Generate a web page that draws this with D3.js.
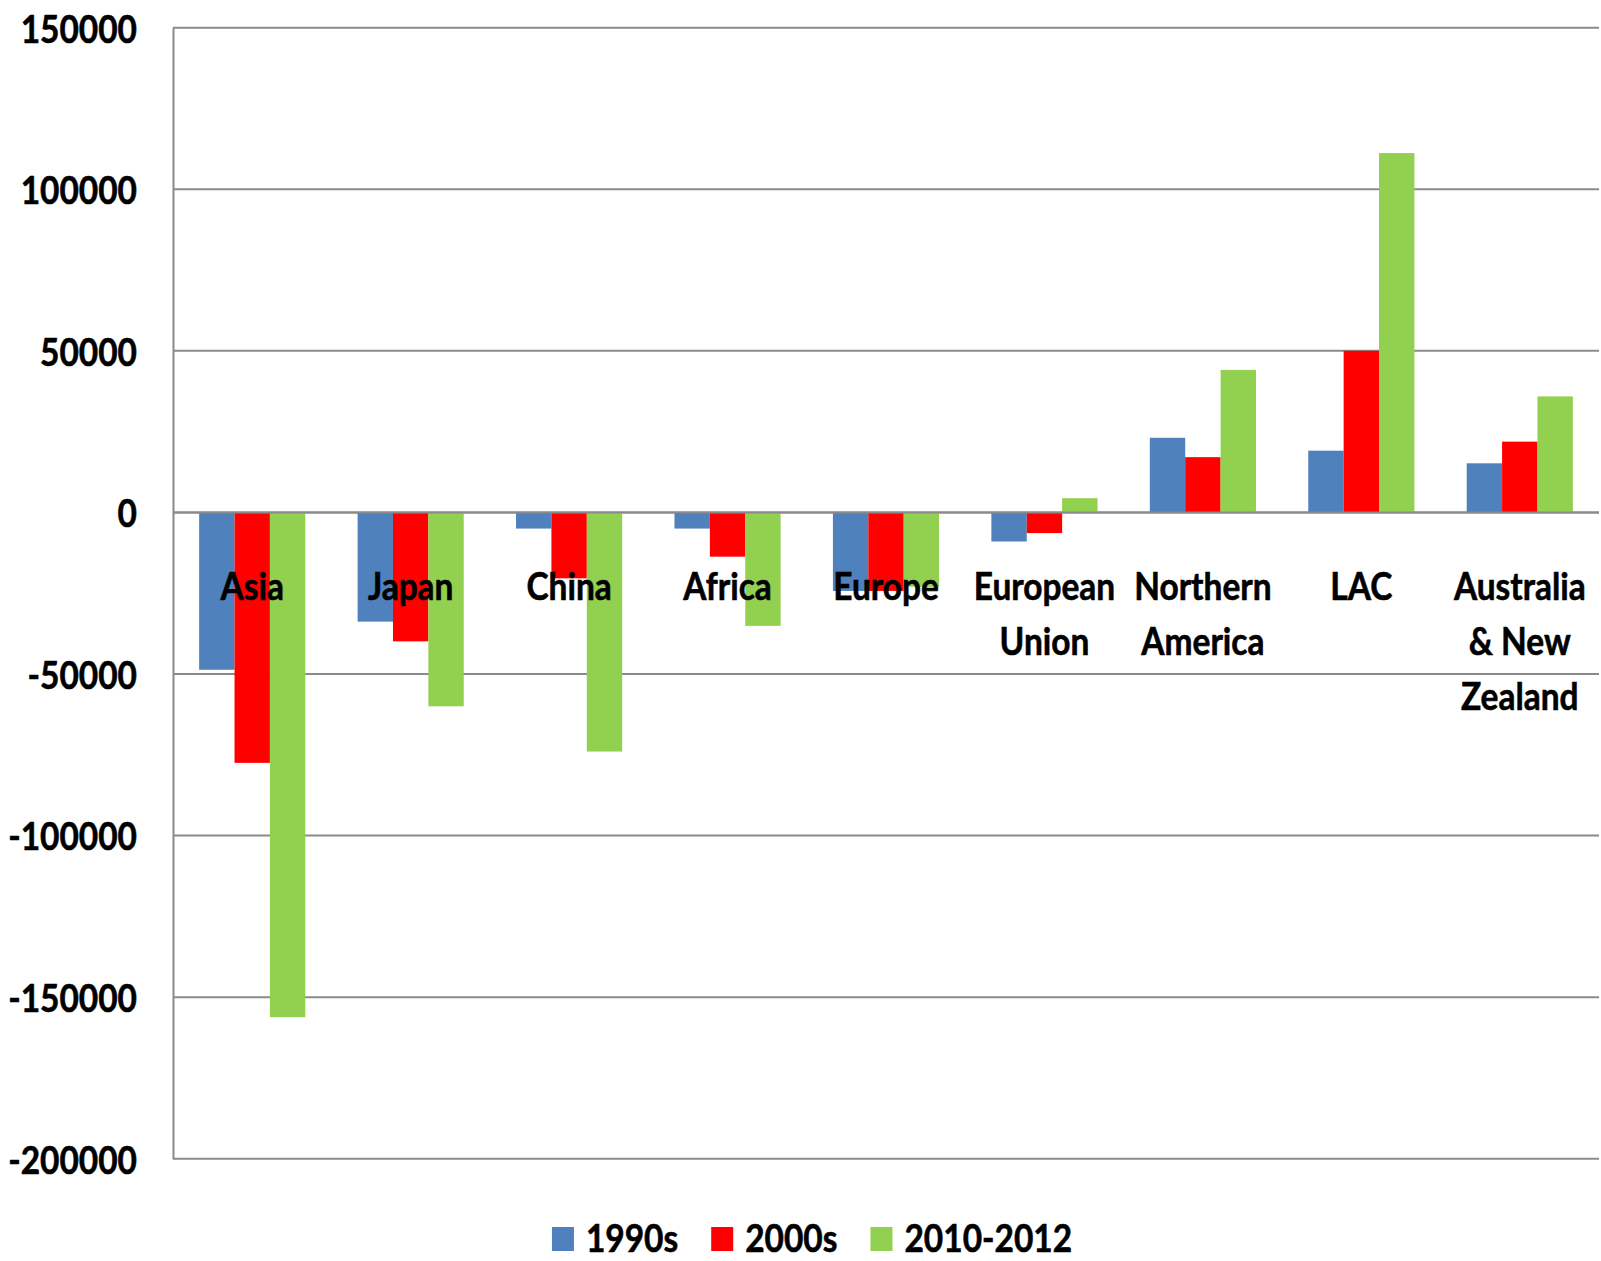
<!DOCTYPE html>
<html>
<head>
<meta charset="utf-8">
<script src="https://cdn.jsdelivr.net/npm/d3@7"></script>
<style>
    body { margin: 0; background: #fff; }
    text { font-family: Lato, "Open Sans", sans-serif; font-weight: bold; fill: #000; stroke: #000; stroke-width: 0.6px; }
</style>
</head>
<body>
<script>
// data
let categories = ["Asia", "Japan", "China", "Africa", "Europe", "European Union", "Northern America", "LAC", "Australia & New Zealand"];
let categoryLines = [["Asia"], ["Japan"], ["China"], ["Africa"], ["Europe"], ["European", "Union"], ["Northern", "America"], ["LAC"], ["Australia", "& New", "Zealand"]];
let seriesNames = ["1990s", "2000s", "2010-2012"];
let seriesColors = ["#4F81BD", "#FF0000", "#92D050"];
let values1990s = [-48700, -33800, -5000, -5000, -24300, -9000, 23100, 19100, 15200];
let values2000s = [-77500, -39900, -20400, -13700, -24300, -6400, 17100, 50000, 21900];
let values2010 = [-156200, -60000, -74000, -35100, -23000, 4400, 44100, 111200, 35900];
let yTicks = [150000, 100000, 50000, 0, -50000, -100000, -150000, -200000];

let seriesValues = [values1990s, values2000s, values2010];

let width = 1601, height = 1261;
let plotLeft = 173, plotRight = 1599, plotTop = 27.7, plotBottom = 1158.7;
let sx = 0.88;  // text is drawn narrower than the font

let svg = d3.select("body").append("svg")
    .attr("width", width)
    .attr("height", height);

let x0 = d3.scaleBand()
    .domain(categories)
    .range([plotLeft, plotRight])
    .paddingInner(0.33)
    .paddingOuter(0.165);

let x1 = d3.scaleBand()
    .domain(seriesNames)
    .range([0, x0.bandwidth()]);

let y = d3.scaleLinear()
    .domain([-200000, 150000])
    .range([plotBottom, plotTop]);

// gridlines
svg.append("g")
    .selectAll("line")
    .data(yTicks)
    .enter().append("line")
    .attr("x1", plotLeft)
    .attr("x2", plotRight)
    .attr("y1", d => y(d))
    .attr("y2", d => y(d))
    .attr("stroke", "#8a8a8a")
    .attr("stroke-width", 2);

// bars
let rows = [];
categories.forEach((c, i) => {
    seriesNames.forEach((s, j) => {
        rows.push({ cat: c, series: s, value: seriesValues[j][i], color: seriesColors[j] });
    });
});

svg.append("g")
    .selectAll("rect")
    .data(rows)
    .enter().append("rect")
    .attr("x", d => x0(d.cat) + x1(d.series))
    .attr("width", x1.bandwidth())
    .attr("y", d => y(Math.max(0, d.value)))
    .attr("height", d => Math.abs(y(d.value) - y(0)))
    .attr("fill", d => d.color);

// zero line over the bars
svg.append("line")
    .attr("x1", plotLeft)
    .attr("x2", plotRight)
    .attr("y1", y(0))
    .attr("y2", y(0))
    .attr("stroke", "#8a8a8a")
    .attr("stroke-width", 2);

// y axis, plain hyphen for the minus sign
let yAxis = svg.append("g")
    .attr("transform", `translate(${plotLeft},0)`)
    .call(d3.axisLeft(y).tickValues(yTicks).tickSize(0).tickPadding(36).tickFormat(d => String(d)));

yAxis.select(".domain")
    .attr("stroke", "#8a8a8a")
    .attr("stroke-width", 2);

yAxis.selectAll("text")
    .attr("x", null)
    .attr("dy", null)
    .attr("fill", "#000")
    .style("font-size", "38px")
    .style("font-family", "Lato, 'Open Sans', sans-serif")
    .style("font-weight", "bold")
    .attr("dominant-baseline", "central")
    .attr("transform", `translate(-36,0) scale(${sx},1)`);

// category labels, drawn inside the plot under the zero line
let catLabels = svg.append("g")
    .selectAll("text")
    .data(categories)
    .enter().append("text")
    .attr("text-anchor", "middle")
    .style("font-size", "38px")
    .attr("transform", d => `translate(${x0(d) + x0.bandwidth() / 2},600) scale(${sx},1)`);

catLabels.selectAll("tspan")
    .data((d, i) => categoryLines[i])
    .enter().append("tspan")
    .attr("x", 0)
    .attr("y", (d, k) => k * 55)
    .text(d => d);

// legend
let legend = svg.append("g");
let items = legend.selectAll("g")
    .data(seriesNames)
    .enter().append("g");

items.append("rect")
    .attr("width", 22)
    .attr("height", 24)
    .attr("y", 1227)
    .attr("fill", (d, i) => seriesColors[i]);

items.append("text")
    .attr("transform", `translate(34,1252) scale(${sx},1)`)
    .style("font-size", "38px")
    .text(d => d);

let pos = 0;
let offsets = [];
items.each(function () {
    offsets.push(pos);
    let w = d3.select(this).select("text").node().getComputedTextLength() * sx;
    pos += 34 + w + 33;
});
let legendWidth = pos - 33;
let legendStart = 812 - legendWidth / 2;
items.attr("transform", (d, i) => `translate(${legendStart + offsets[i]},0)`);
</script>
</body>
</html>
